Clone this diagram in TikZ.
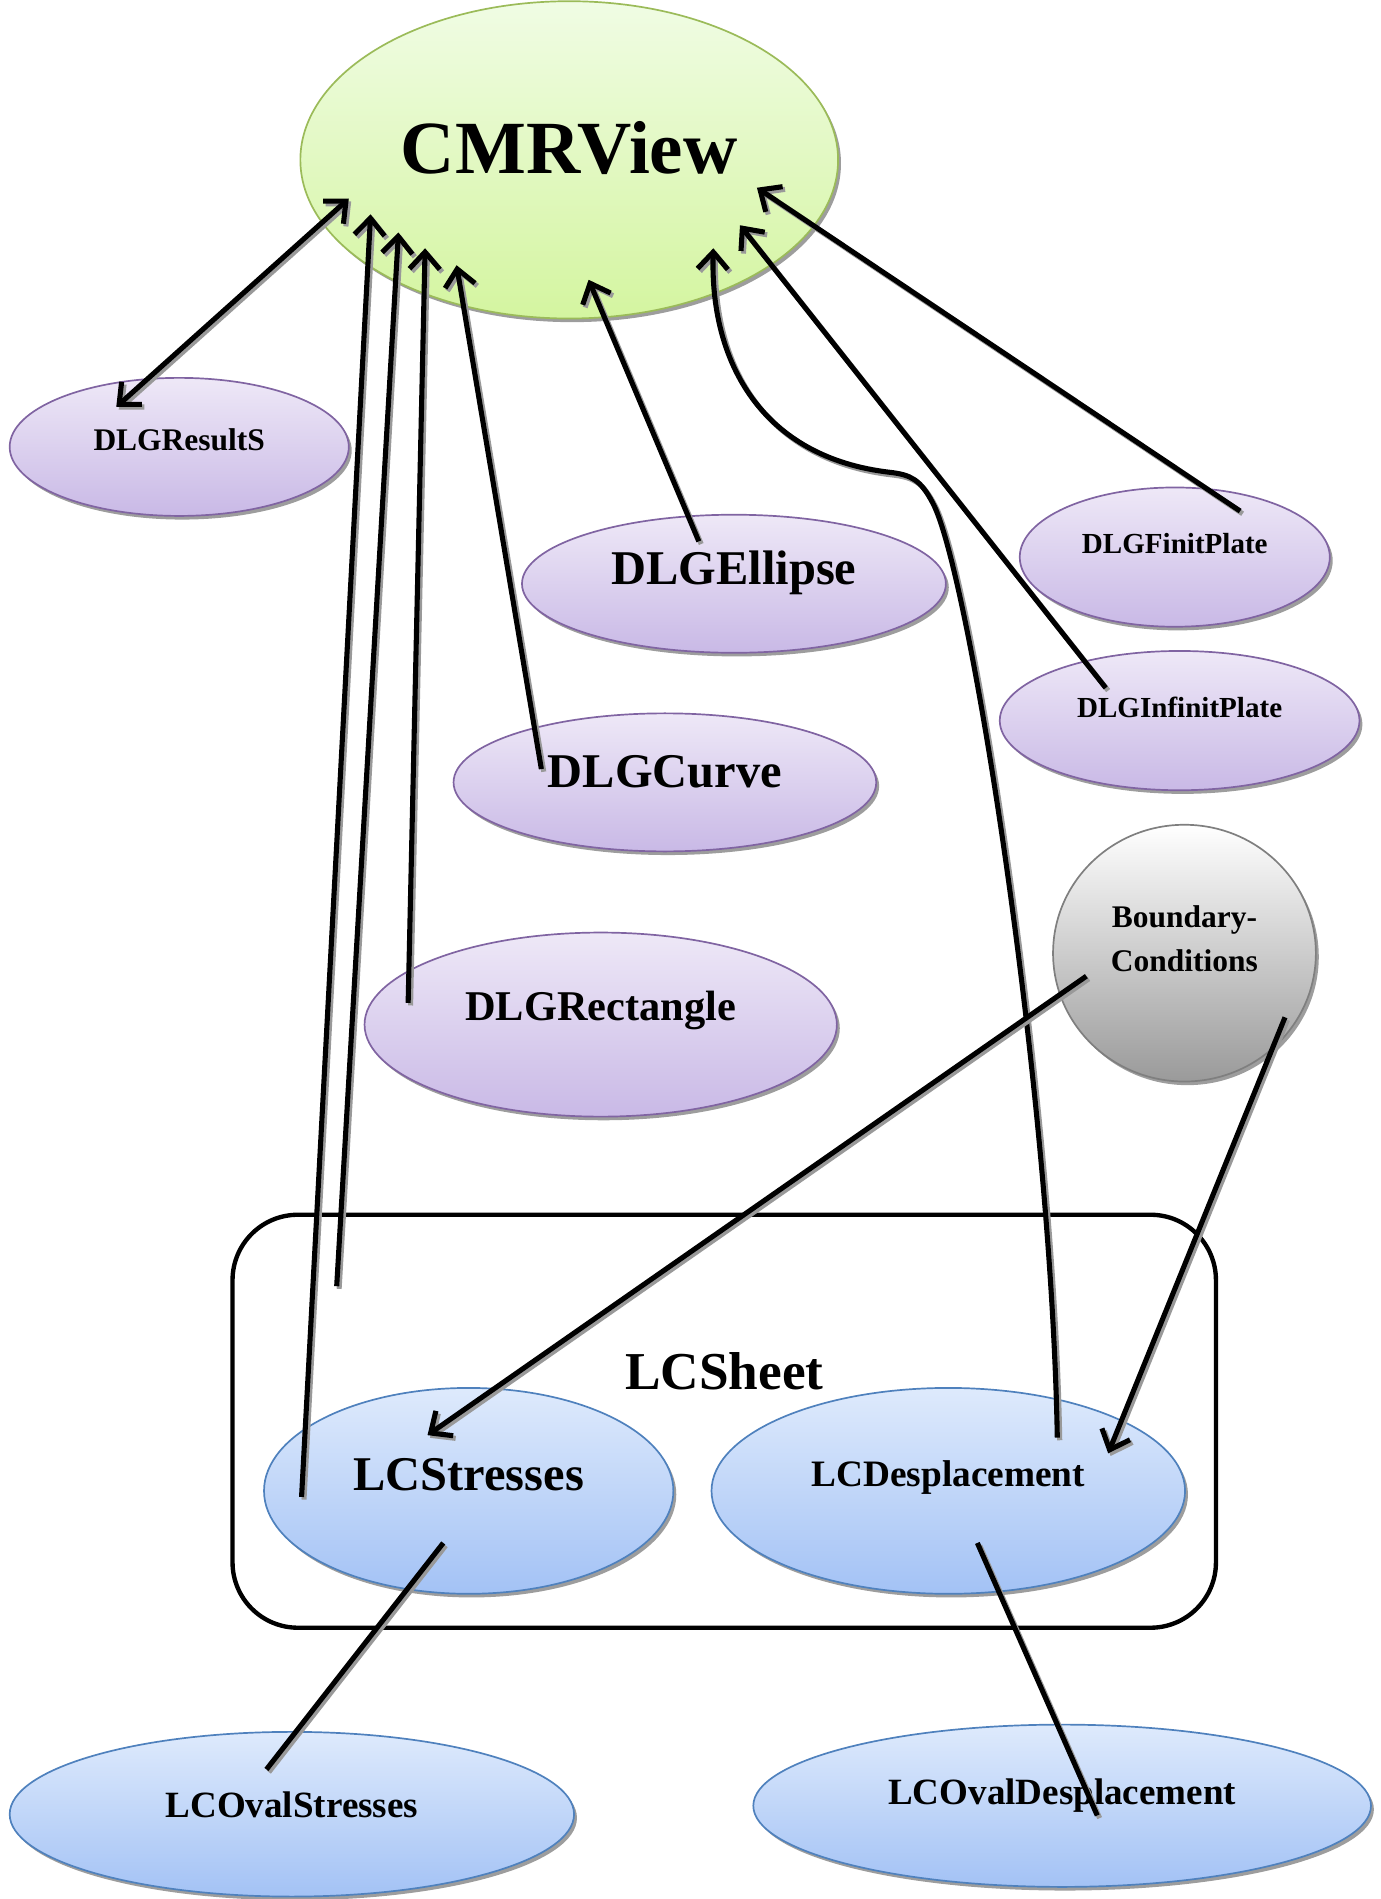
\documentclass[tikz,border=0pt]{standalone}
\usepackage{fontspec}
\setmainfont{Liberation Serif}
\usetikzlibrary{shapes.geometric,shadows,arrows.meta}
\definecolor{gtop}{HTML}{F0FCE4}\definecolor{gbot}{HTML}{D4F5A0}\definecolor{gbrd}{HTML}{9BBB59}
\definecolor{ptop}{HTML}{EEE8F7}\definecolor{pbot}{HTML}{C9B9E6}\definecolor{pbrd}{HTML}{8064A2}
\definecolor{btop}{HTML}{DEEAFC}\definecolor{bbot}{HTML}{A3C2F5}\definecolor{bbrd}{HTML}{4F81BD}
\definecolor{ktop}{HTML}{FFFFFF}\definecolor{kbot}{HTML}{9A9A9A}\definecolor{kbrd}{HTML}{7F7F7F}
\newcommand{\fs}[1]{\fontsize{#1}{1.2\dimexpr #1pt\relax}\selectfont}
\tikzset{
  ov/.style={ellipse, inner sep=0pt, line width=0.7pt,
    drop shadow={shadow xshift=1.2pt, shadow yshift=-1.5pt, fill=black!55, opacity=0.7}},
  grn/.style={ov, draw=gbrd, top color=gtop, bottom color=gbot},
  pur/.style={ov, draw=pbrd, top color=ptop, bottom color=pbot},
  blu/.style={ov, draw=bbrd, top color=btop, bottom color=bbot},
  gry/.style={ov, draw=kbrd, top color=ktop, bottom color=kbot},
  txt/.style={font=\bfseries, inner sep=0pt, align=center},
  conn/.style={line width=2.1pt, black,
    preaction={draw=black!40, line width=2.1pt, transform canvas={shift={(1pt,-1.1pt)}}}},
  arr/.style={conn, -{Straight Barb[length=7pt,width=12.5pt]}},
  darr/.style={conn, {Straight Barb[length=7pt,width=12.5pt]}-{Straight Barb[length=7pt,width=12.5pt]}},
}
\begin{document}
\begin{tikzpicture}[x=0.5pt,y=-0.5pt]
\useasboundingbox (0,0) rectangle (1140,1568);
% LCSheet frame
\node[draw, line width=1.8pt, rounded corners=27pt, minimum width=406pt, minimum height=170.5pt, inner sep=0pt] (sheet) at (598,1173.5) {};
\node[txt] (sheett) at (598,1132) {\fs{22}LCSheet};
% nodes
\node[grn, minimum width=222pt, minimum height=131pt] (cmr) at (470,132) {};
\node[txt] (cmrt) at (470,122) {\fs{31}CMRView};
\node[pur, minimum width=140pt, minimum height=57pt] (res) at (148,369) {};
\node[txt] (rest) at (148,363) {\fs{13}DLGResultS};
\node[pur, minimum width=175pt, minimum height=57pt] (ell) at (606,482) {};
\node[txt] (ellt) at (606,473) {\fs{20}DLGEllipse};
\node[pur, minimum width=174.5pt, minimum height=57pt] (cur) at (549,646) {};
\node[txt] (curt) at (549,637) {\fs{20}DLGCurve};
\node[pur, minimum width=195pt, minimum height=76pt] (rec) at (496,846) {};
\node[txt] (rect) at (496,834) {\fs{17.5}DLGRectangle};
\node[pur, minimum width=128pt, minimum height=57.5pt] (fin) at (970,460) {};
\node[txt] (fint) at (970,449) {\fs{12}DLGFinitPlate};
\node[pur, minimum width=148.5pt, minimum height=57.5pt] (inf) at (974,595) {};
\node[txt] (inft) at (974,584) {\fs{12}DLGInfinitPlate};
\node[gry, minimum width=108.5pt, minimum height=106pt] (bc) at (978,787) {};
\node[txt, font=\bfseries\fontsize{13}{18}\selectfont] (bct) at (978,775) {Boundary-\\Conditions};
\node[blu, minimum width=169pt, minimum height=85pt] (lcs) at (387,1231) {};
\node[txt] (lcst) at (387,1218) {\fs{20}LCStresses};
\node[blu, minimum width=195.5pt, minimum height=85pt] (lcd) at (783,1231) {};
\node[txt] (lcdt) at (783,1220) {\fs{15.4}LCDesplacement};
\node[blu, minimum width=233pt, minimum height=68pt] (lcos) at (241,1498) {};
\node[txt] (lcost) at (241,1490) {\fs{15.3}LCOvalStresses};
\node[blu, minimum width=255pt, minimum height=67pt] (lcod) at (877,1491) {};
\node[txt] (lcodt) at (877,1483) {\fs{15.3}LCOvalDesplacement};
% connector end points
\coordinate (res-a) at (96,336);   \coordinate (cmr-a) at (288,164);
\coordinate (lcs-b) at (249,1236); \coordinate (cmr-b) at (306,177);
\coordinate (sheet-c) at (278,1062); \coordinate (cmr-c) at (329,192);
\coordinate (rec-d) at (337,828);  \coordinate (cmr-d) at (351,205);
\coordinate (cur-e) at (447,635);  \coordinate (cmr-e) at (377,219);
\coordinate (ell-f) at (577,447);  \coordinate (cmr-f) at (486,231);
\coordinate (lcd-g) at (873,1187); \coordinate (cmr-g) at (589,205);
\coordinate (inf-h) at (913,568);  \coordinate (cmr-h) at (611,186);
\coordinate (fin-i) at (1024,422); \coordinate (cmr-i) at (625,155);
\coordinate (bc-j) at (897,806);   \coordinate (lcs-j) at (353,1185);
\coordinate (bc-k) at (1061,840);  \coordinate (lcd-k) at (915,1200);
\coordinate (lcs-l) at (366,1274); \coordinate (lcos-l) at (220,1461);
\coordinate (lcd-m) at (807,1274); \coordinate (lcod-m) at (906,1499);
% connectors
\draw[darr] (res-a) -- (cmr-a);
\draw[arr] (lcs-b) -- (cmr-b);
\draw[arr] (sheet-c) -- (cmr-c);
\draw[arr] (rec-d) -- (cmr-d);
\draw[arr] (cur-e) -- (cmr-e);
\draw[arr] (ell-f) -- (cmr-f);
\draw[arr] (lcd-g) .. controls (868,900) and (800,470) .. (770,415)
   .. controls (760,396) and (752,392) .. (735,390)
   .. controls (630,378) and (586,300) .. (cmr-g);
\draw[arr] (inf-h) -- (cmr-h);
\draw[arr] (fin-i) -- (cmr-i);
\draw[arr] (bc-j) -- (lcs-j);
\draw[arr] (bc-k) -- (lcd-k);
\draw[conn] (lcs-l) -- (lcos-l);
\draw[conn] (lcd-m) -- (lcod-m);
\end{tikzpicture}
\end{document}
